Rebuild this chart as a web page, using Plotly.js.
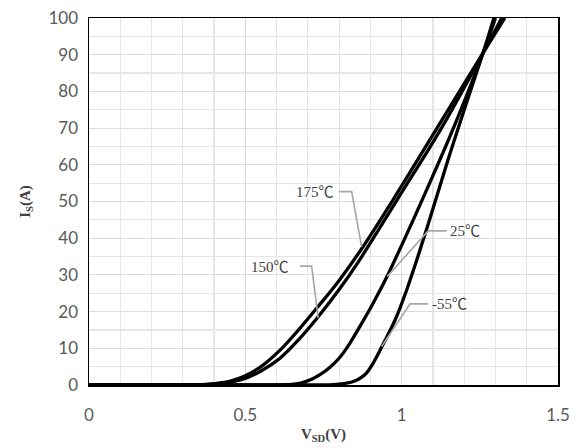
<!DOCTYPE html>
<html>
<head>
<meta charset="utf-8">
<script src="https://cdn.plot.ly/plotly-3.0.1.min.js"></script>
<style>html,body{margin:0;padding:0;background:#fff;}#chart{width:580px;height:448px;}</style>
</head>
<body>
<div id="chart"></div>
<script>
// Data (V_SD in V, I_S in A)
const v175 = [0, 0.30, 0.38, 0.45, 0.50, 0.55, 0.611, 0.67, 0.728, 0.80, 0.867, 0.972, 1.116, 1.26, 1.33];
const i175 = [0, 0, 0.2, 1.0, 2.5, 5.0, 9.5, 15.0, 20.9, 28.5, 36.5, 50.4, 70.4, 90.4, 100];
const v150 = [0, 0.30, 0.39, 0.46, 0.50, 0.55, 0.611, 0.67, 0.733, 0.80, 0.861, 0.985, 1.13, 1.26, 1.32];
const i150 = [0, 0, 0.2, 0.9, 1.8, 3.8, 7.3, 12.3, 18.6, 26.0, 33.5, 50.4, 70.4, 90.4, 100];
const v25 = [0, 0.55, 0.62, 0.65, 0.68, 0.71, 0.74, 0.77, 0.80, 0.83, 0.866, 0.91, 0.95, 1.037, 1.122, 1.18, 1.26, 1.30];
const i25 = [0, 0, 0.05, 0.2, 0.6, 1.5, 2.9, 4.8, 7.3, 10.8, 15.9, 22.5, 29.0, 45.0, 61.3, 73.0, 90.4, 100];
const vm55 = [0, 0.70, 0.78, 0.824, 0.85, 0.87, 0.888, 0.905, 0.931, 0.979, 1.016, 1.05, 1.10, 1.148, 1.20, 1.26, 1.295];
const im55 = [0, 0, 0.1, 0.5, 1.1, 2.0, 3.3, 5.4, 9.5, 17.7, 25.9, 34.5, 48.0, 61.3, 75.0, 90.4, 100];

const seriesNames = ["175℃", "150℃", "25℃", "-55℃"];

// Label anchors and leader lines (data coordinates)
const labelX = [0.79, 0.645, 1.148, 1.09];
const labelY = [52.7, 32.2, 42.0, 22.1];
const labelAnchor = ["right", "right", "left", "left"];
const leaders = [
  [[0.800, 52.7], [0.840, 52.7], [0.872, 37.6]],
  [[0.675, 32.4], [0.712, 32.4], [0.733, 18.3]],
  [[1.144, 42.0], [1.085, 42.0], [0.954, 29.6]],
  [[1.085, 22.1], [1.027, 22.1], [0.936, 10.5]]
];

const xs = [v175, v150, v25, vm55];
const ys = [i175, i150, i25, im55];

const traces = xs.map((x, k) => ({
  x: x, y: ys[k], type: "scatter", mode: "lines", name: seriesNames[k],
  line: {color: "#000000", width: 3.3, shape: "spline", smoothing: 1},
  hoverinfo: "skip"
}));

const shapes = leaders.map(p => ({
  type: "path", xref: "x", yref: "y",
  path: "M" + p.map(q => q[0] + "," + q[1]).join(" L"),
  line: {color: "#a6a6a6", width: 1.6}
}));

const annotations = seriesNames.map((t, k) => ({
  x: labelX[k], y: labelY[k], xref: "x", yref: "y", text: t, showarrow: false,
  xanchor: labelAnchor[k], yanchor: "middle",
  font: {family: "Liberation Serif, Noto Sans CJK SC, serif", size: 15, color: "#404040"}
}));

const layout = {
  width: 580, height: 448,
  margin: {l: 89, r: 22, t: 18, b: 63, pad: 0},
  paper_bgcolor: "#ffffff", plot_bgcolor: "#ffffff",
  showlegend: false,
  xaxis: {
    range: [0, 1.5], tick0: 0, dtick: 0.5,
    showline: true, linecolor: "#000000", linewidth: 1.5, mirror: true,
    showgrid: true, gridcolor: "#d9d9d9", gridwidth: 1,
    zeroline: false,
    ticks: "outside", ticklen: 14, tickcolor: "rgba(0,0,0,0)",
    minor: {tick0: 0, dtick: 0.1, showgrid: true, gridcolor: "#e6e6e6", gridwidth: 1.2},
    tickfont: {family: "Lato, Open Sans, sans-serif", size: 17, color: "#595959"},
    title: {text: "<b>V<sub>SD</sub>(V)</b>", standoff: 4,
            font: {family: "Liberation Serif, serif", size: 15, color: "#404040"}}
  },
  yaxis: {
    range: [0, 100], tick0: 0, dtick: 10,
    showline: true, linecolor: "#000000", linewidth: 1.5, mirror: true,
    showgrid: true, gridcolor: "#dcdcdc", gridwidth: 1,
    zeroline: false,
    ticks: "outside", ticklen: 6, tickcolor: "rgba(0,0,0,0)",
    minor: {tick0: 0, dtick: 5, showgrid: true, gridcolor: "#e6e6e6", gridwidth: 1.2},
    tickfont: {family: "Lato, Open Sans, sans-serif", size: 17, color: "#595959"},
    title: {text: "<b>I<sub>S</sub>(A)</b>", standoff: 14,
            font: {family: "Liberation Serif, serif", size: 15, color: "#404040"}}
  },
  shapes: shapes,
  annotations: annotations
};

Plotly.newPlot("chart", traces, layout, {staticPlot: true, displayModeBar: false});
</script>
</body>
</html>
